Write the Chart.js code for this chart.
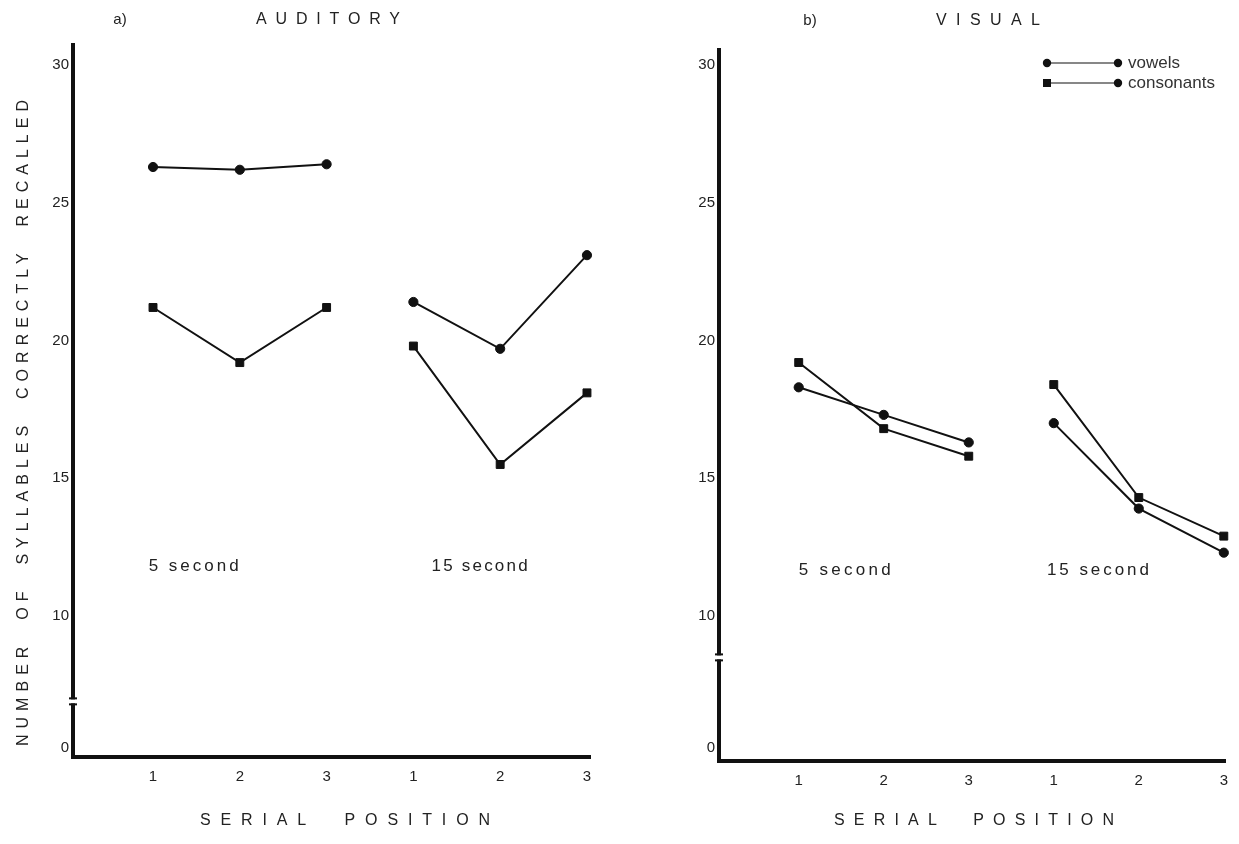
<!DOCTYPE html>
<html>
<head>
<meta charset="utf-8">
<title>Serial position - auditory and visual</title>
<script src="https://cdn.jsdelivr.net/npm/chart.js@4.4.1/dist/chart.umd.min.js"></script>
<style>
    body { margin: 0; background: #fff; }
    #wrap { position: relative; width: 1239px; height: 844px; overflow: hidden; }
    canvas { position: absolute; top: 0; }
    #chartA { left: 0; }
    #chartB { left: 620px; }
</style>
</head>
<body>
<div id="wrap">
    <canvas id="chartA" width="620" height="844"></canvas>
    <canvas id="chartB" width="619" height="844"></canvas>
</div>
<script>
// ---- data ----
const positionLabels = ['1', '2', '3', '1', '2', '3'];
const fiveSecondPositions = [1, 2, 3];
const fifteenSecondPositions = [4, 5, 6];
// the axis is broken below 10, so "0" sits just above the x axis
const yTickValues = [5.2, 10, 15, 20, 25, 30];
const yTickLabels = ['0', '10', '15', '20', '25', '30'];
const seriesNames = ['vowels', 'consonants'];
const intervalNames = ['5 second', '15 second'];

const auditoryVowels5 = [26.3, 26.2, 26.4];
const auditoryConsonants5 = [21.2, 19.2, 21.2];
const auditoryVowels15 = [21.4, 19.7, 23.1];
const auditoryConsonants15 = [19.8, 15.5, 18.1];

const visualVowels5 = [18.3, 17.3, 16.3];
const visualConsonants5 = [19.2, 16.8, 15.8];
const visualVowels15 = [17.0, 13.9, 12.3];
const visualConsonants15 = [18.4, 14.3, 12.9];

const INK = '#111';
const TEXT = '#222';
const FONT = '"Liberation Sans", Arial, Helvetica, sans-serif';

Chart.defaults.font.family = FONT;
Chart.defaults.color = TEXT;

function toPoints(xs, ys) {
    return xs.map((x, i) => ({ x: x, y: ys[i] }));
}

function makeDatasets(v5, c5, v15, c15) {
    const base = {
        borderColor: INK,
        backgroundColor: INK,
        pointBackgroundColor: INK,
        pointBorderColor: INK,
        borderWidth: 2,
        pointBorderWidth: 1,
        tension: 0,
        clip: false
    };
    const circle = { pointStyle: 'circle', pointRadius: 4.6 };
    const square = { pointStyle: 'rect', pointRadius: 5.6 };
    return [
        { ...base, ...circle, label: seriesNames[0], data: toPoints(fiveSecondPositions, v5) },
        { ...base, ...square, label: seriesNames[1], data: toPoints(fiveSecondPositions, c5) },
        { ...base, ...circle, label: seriesNames[0], data: toPoints(fifteenSecondPositions, v15) },
        { ...base, ...square, label: seriesNames[1], data: toPoints(fifteenSecondPositions, c15) }
    ];
}

// text with stretched letter spacing so it fills a given width
function spacedText(ctx, str, x, y, opts) {
    ctx.save();
    ctx.translate(x, y);
    if (opts.angle) ctx.rotate(opts.angle);
    ctx.font = (opts.size || 16) + 'px ' + FONT;
    ctx.fillStyle = opts.color || TEXT;
    ctx.textBaseline = 'middle';
    ctx.textAlign = 'left';
    const hasSpacing = 'letterSpacing' in ctx;
    if (hasSpacing) ctx.letterSpacing = '0px';
    const natural = ctx.measureText(str).width;
    let spacing = 0;
    if (hasSpacing && opts.width && str.length > 1) {
        spacing = Math.max(0, (opts.width - natural) / (str.length - 1));
        ctx.letterSpacing = spacing + 'px';
    }
    const full = natural + spacing * (str.length - 1);
    const start = opts.align === 'left' ? 0 : -full / 2;
    ctx.fillText(str, start, 0);
    ctx.restore();
}

function makeDecor(cfg) {
    return {
        id: 'decor',
        afterDraw(chart) {
            const ctx = chart.ctx;
            const xs = chart.scales.x;
            const ys = chart.scales.y;
            const left = chart.chartArea.left;
            ctx.save();

            // axis break marks
            const yb = ys.getPixelForValue(cfg.breakAt);
            ctx.fillStyle = '#fff';
            ctx.fillRect(left - 6, yb - 2, 12, 4);
            ctx.fillStyle = INK;
            ctx.fillRect(left - 4, yb - 4, 8, 2);
            ctx.fillRect(left - 4, yb + 2, 8, 2);

            // interval notes placed in data space
            cfg.notes.forEach(n => {
                spacedText(ctx, n.text, xs.getPixelForValue(n.x), ys.getPixelForValue(n.y),
                    { width: n.width, size: 17, align: 'left' });
            });

            // titles
            cfg.texts.forEach(t => spacedText(ctx, t.text, t.x, t.y, t));

            // legend
            if (cfg.legend) {
                const L = cfg.legend;
                ctx.strokeStyle = INK;
                ctx.fillStyle = INK;
                ctx.lineWidth = 1.2;
                L.rows.forEach((row, i) => {
                    const ry = L.y + i * L.gap;
                    ctx.beginPath();
                    ctx.moveTo(L.x0, ry);
                    ctx.lineTo(L.x1, ry);
                    ctx.stroke();
                    if (row.start === 'rect') {
                        ctx.fillRect(L.x0 - 4, ry - 4, 8, 8);
                    } else {
                        ctx.beginPath(); ctx.arc(L.x0, ry, 4.2, 0, Math.PI * 2); ctx.fill();
                    }
                    ctx.beginPath(); ctx.arc(L.x1, ry, 4.2, 0, Math.PI * 2); ctx.fill();
                    spacedText(ctx, row.text, L.x1 + 10, ry, { size: 17, align: 'left', color: '#333' });
                });
            }
            ctx.restore();
        }
    };
}

function buildPanel(canvasId, datasets, cfg) {
    const xTickValues = positionLabels.map((_, i) => i + 1);
    return new Chart(document.getElementById(canvasId), {
        type: 'line',
        data: { datasets: datasets },
        options: {
            responsive: false,
            animation: false,
            devicePixelRatio: 1,
            events: [],
            layout: { padding: { top: cfg.top, right: cfg.right, left: 0, bottom: 0 } },
            plugins: { legend: { display: false }, tooltip: { enabled: false } },
            scales: {
                x: {
                    type: 'linear',
                    min: cfg.xMin,
                    max: cfg.xMax,
                    grid: { display: false, drawTicks: false },
                    border: { display: true, width: 4, color: INK },
                    afterBuildTicks: s => { s.ticks = xTickValues.map(v => ({ value: v })); },
                    afterFit: s => { s.height = cfg.xAxisHeight; },
                    ticks: {
                        autoSkip: false,
                        maxRotation: 0,
                        padding: 11,
                        color: TEXT,
                        font: { size: 15 },
                        callback: (v, i) => positionLabels[i]
                    }
                },
                y: {
                    type: 'linear',
                    min: cfg.yMin,
                    max: cfg.yMax,
                    grid: { display: false, drawTicks: false },
                    border: { display: true, width: 4, color: INK },
                    afterBuildTicks: s => { s.ticks = yTickValues.map(v => ({ value: v })); },
                    afterFit: s => { s.width = cfg.left; },
                    ticks: {
                        padding: 4,
                        color: TEXT,
                        font: { size: 15 },
                        callback: (v, i) => yTickLabels[i]
                    }
                }
            }
        },
        plugins: [makeDecor(cfg)]
    });
}

buildPanel('chartA',
    makeDatasets(auditoryVowels5, auditoryConsonants5, auditoryVowels15, auditoryConsonants15),
    {
        top: 45, right: 30, left: 73, xAxisHeight: 87,
        xMin: 0.078, xMax: 6.035, yMin: 4.88, yMax: 30.73,
        breakAt: 6.9,
        notes: [
            { text: intervalNames[0], x: 0.95, y: 11.8, width: 90 },
            { text: intervalNames[1], x: 4.21, y: 11.8, width: 96 }
        ],
        texts: [
            { text: 'a)', x: 120, y: 20, size: 15 },
            { text: 'AUDITORY', x: 328, y: 20, width: 144, size: 16 },
            { text: 'SERIAL  POSITION', x: 345, y: 821, width: 290, size: 16 },
            { text: 'NUMBER  OF  SYLLABLES  CORRECTLY  RECALLED', x: 24, y: 423, width: 646, size: 16, angle: -Math.PI / 2 }
        ],
        legend: null
    });

buildPanel('chartB',
    makeDatasets(visualVowels5, visualConsonants5, visualVowels15, visualConsonants15),
    {
        top: 50, right: 5, left: 99, xAxisHeight: 83,
        xMin: 0.0625, xMax: 6.023, yMin: 4.74, yMax: 30.54,
        breakAt: 8.5,
        notes: [
            { text: intervalNames[0], x: 1.0, y: 11.65, width: 92 },
            { text: intervalNames[1], x: 3.92, y: 11.65, width: 102 }
        ],
        texts: [
            { text: 'b)', x: 190, y: 21, size: 15 },
            { text: 'VISUAL', x: 368, y: 21, width: 104, size: 16 },
            { text: 'SERIAL  POSITION', x: 354, y: 821, width: 280, size: 16 }
        ],
        legend: {
            x0: 427, x1: 498, y: 63, gap: 20,
            rows: [
                { text: seriesNames[0], start: 'circle' },
                { text: seriesNames[1], start: 'rect' }
            ]
        }
    });
</script>
</body>
</html>
